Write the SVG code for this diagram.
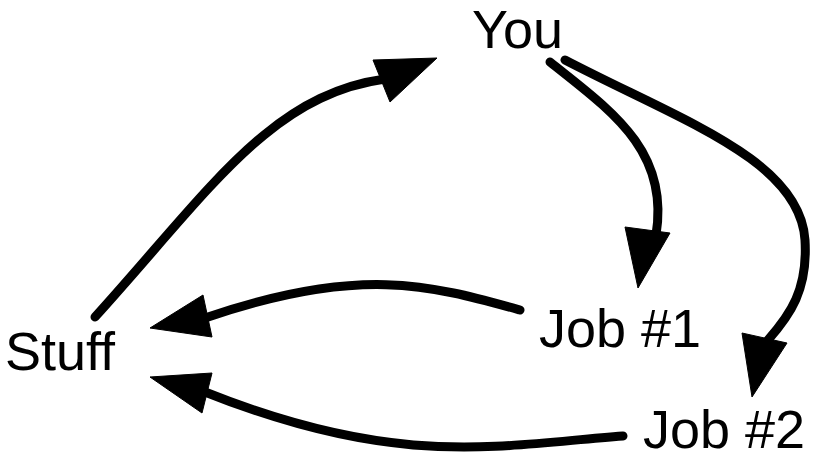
<svg xmlns="http://www.w3.org/2000/svg" width="814" height="459" viewBox="0 0 814 459">
<style>
.lbl{font-family:"Liberation Sans",Arial,sans-serif;font-size:54px;fill:#000}
.edge{fill:none;stroke:#000;stroke-width:9;stroke-linecap:round}
.head{fill:#000;stroke:#000;stroke-width:1;stroke-linejoin:round}
</style>
<rect width="814" height="459" fill="#fff"/>
<g id="you"><text class="lbl" x="472" y="48">You</text></g>
<g id="stuff"><text class="lbl" x="5" y="370">Stuff</text></g>
<g id="job1"><text class="lbl" x="539" y="347">Job #1</text></g>
<g id="job2"><text class="lbl" x="643" y="448">Job #2</text></g>
<g id="connectors">
<path class="edge" d="M95,317 C210,190 270,95 385,79"/>
<polygon class="head" points="437,58 373,60 390,102"/>
<path class="edge" d="M550,62 C610,110 670,150 656,235"/>
<polygon class="head" points="638,288 625,227 670,233"/>
<path class="edge" d="M565,60 C680,120 800,160 805,240 C808,290 790,315 768,340"/>
<polygon class="head" points="752,397 742,333 787,343"/>
<path class="edge" d="M520,310 C430,285 360,265 205,318"/>
<polygon class="head" points="150,328 203,295 212,337"/>
<path class="edge" d="M623,436 C500,445 400,470 205,392"/>
<polygon class="head" points="150,377 212,373 202,413"/>
</g>
</svg>
